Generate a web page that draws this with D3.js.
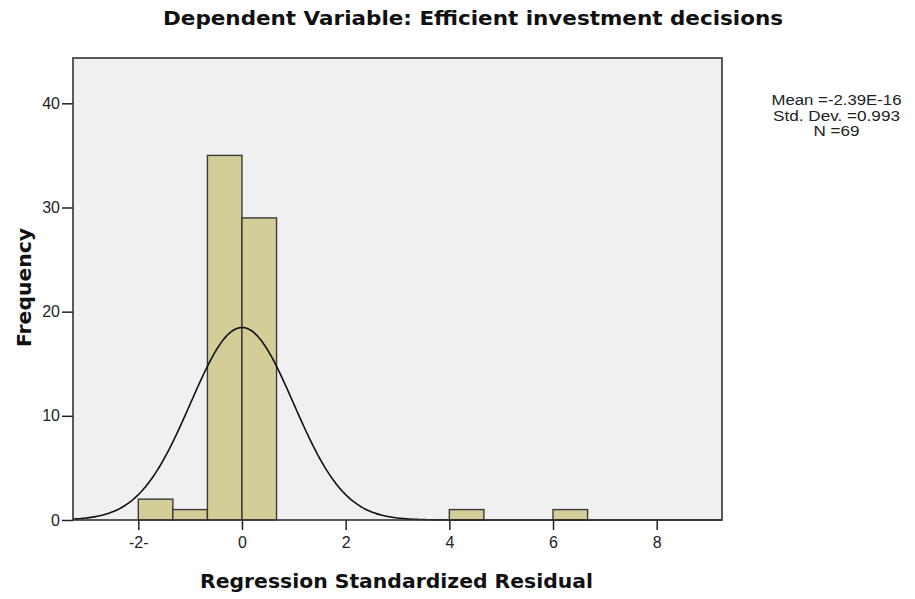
<!DOCTYPE html>
<html><head><meta charset="utf-8">
<script src="https://cdn.jsdelivr.net/npm/d3@7"></script>
<style>body{margin:0;background:#fff}svg{display:block;font-family:"Liberation Sans",Arial,sans-serif}</style>
</head><body><div id="chart"></div>
<script>
const binStarts = [-2, -4/3, -2/3, 0, 4, 6];
const binWidth = 2/3;
const counts = [2, 1, 35, 29, 1, 1];
const xTicks = [-2, 0, 2, 4, 6, 8];
const xTickLabels = ["-2-", "0", "2", "4", "6", "8"];
const yTicks = [0, 10, 20, 30, 40];
const stats = { mean: -2.39e-16, sd: 0.993, n: 69 };
const legendLines = ["Mean =-2.39E-16", "Std. Dev. =0.993", "N =69"];
const title = "Dependent Variable: Efficient investment decisions";
const xLabel = "Regression Standardized Residual";
const yLabel = "Frequency";

const W = 915, H = 599;
const m = {left: 73, top: 58, right: 722, bottom: 520};
const svg = d3.select("#chart").append("svg").attr("width", W).attr("height", H);

const x = d3.scaleLinear().domain([-3.26, 9.26]).range([m.left, m.right]);
const y = d3.scaleLinear().domain([0, 44.35]).range([m.bottom, m.top]);

svg.append("rect").attr("x", m.left).attr("y", m.top)
  .attr("width", m.right - m.left).attr("height", m.bottom - m.top)
  .attr("fill", "#f0f0f0");

svg.append("g").selectAll("rect").data(counts).join("rect")
  .attr("x", (d, i) => x(binStarts[i]))
  .attr("y", d => y(d))
  .attr("width", (d, i) => x(binStarts[i] + binWidth) - x(binStarts[i]))
  .attr("height", d => y(0) - y(d))
  .attr("fill", "#d3ce97").attr("stroke", "#3a3a3a").attr("stroke-width", 1.4);

// normal curve
const pts = d3.range(0, 401).map(i => {
  const xv = -3.26 + i * (12.52 / 400);
  const z = (xv - stats.mean) / stats.sd;
  const v = stats.n * binWidth * Math.exp(-0.5 * z * z) / (stats.sd * Math.sqrt(2 * Math.PI));
  return [xv, v];
});
svg.append("path").datum(pts)
  .attr("d", d3.line().x(d => x(d[0])).y(d => y(d[1])).curve(d3.curveBasis))
  .attr("fill", "none").attr("stroke", "#111").attr("stroke-width", 1.6);

// frame
svg.append("rect").attr("x", m.left).attr("y", m.top)
  .attr("width", m.right - m.left).attr("height", m.bottom - m.top)
  .attr("fill", "none").attr("stroke", "#333").attr("stroke-width", 1.6);

// axes
const tickFont = '"Liberation Sans",Arial,sans-serif';
const xAxis = d3.axisBottom(x).tickValues(xTicks).tickSize(10).tickPadding(7)
  .tickFormat((d, i) => xTickLabels[i]);
const gx = svg.append("g").attr("transform", `translate(0,${m.bottom})`).call(xAxis);
gx.select(".domain").remove();
gx.selectAll("line").attr("stroke", "#222").attr("stroke-width", 1.5);
gx.selectAll("text").attr("font-size", 16).attr("fill", "#222").attr("font-family", tickFont);

const yAxis = d3.axisLeft(y).tickValues(yTicks).tickSize(11).tickPadding(2);
const gy = svg.append("g").attr("transform", `translate(${m.left},0)`).call(yAxis);
gy.select(".domain").remove();
gy.selectAll("line").attr("stroke", "#222").attr("stroke-width", 1.5);
gy.selectAll("text").attr("font-size", 16).attr("fill", "#222").attr("font-family", tickFont);

// titles
const titleFont = '"DejaVu Sans",Verdana,sans-serif';
svg.append("text").attr("x", 473).attr("y", 25).attr("text-anchor", "middle")
  .attr("font-family", titleFont)
  .attr("font-size", 19).attr("font-weight", "bold").attr("fill", "#111")
  .attr("textLength", 620).attr("lengthAdjust", "spacingAndGlyphs").text(title);
svg.append("text").attr("x", 396.5).attr("y", 588).attr("text-anchor", "middle")
  .attr("font-family", titleFont)
  .attr("font-size", 19).attr("font-weight", "bold").attr("fill", "#111")
  .attr("textLength", 393).attr("lengthAdjust", "spacingAndGlyphs").text(xLabel);
svg.append("text").attr("transform", "translate(31,287.5) rotate(-90)").attr("text-anchor", "middle")
  .attr("font-family", titleFont)
  .attr("font-size", 19).attr("font-weight", "bold").attr("fill", "#111")
  .attr("textLength", 119).attr("lengthAdjust", "spacingAndGlyphs").text(yLabel);

const legendLens = [130, 127, 46];
svg.append("g").selectAll("text").data(legendLines).join("text")
  .attr("x", 836.5).attr("y", (d, i) => 105 + i * 15.5).attr("text-anchor", "middle")
  .attr("font-size", 15.5).attr("fill", "#222")
  .attr("textLength", (d, i) => legendLens[i]).attr("lengthAdjust", "spacingAndGlyphs").text(d => d);
</script></body></html>
